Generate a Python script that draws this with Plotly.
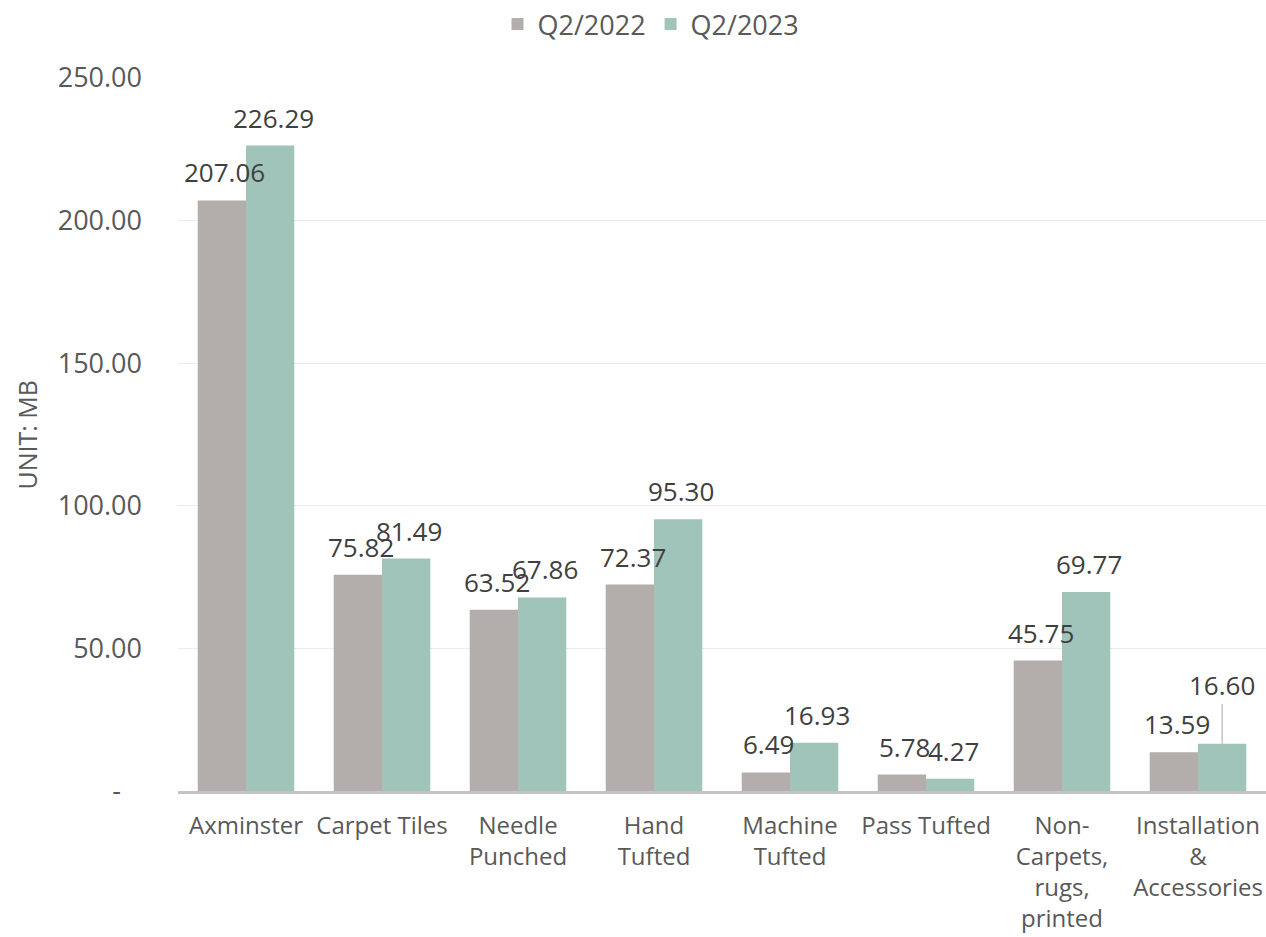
import plotly.graph_objects as go

categories = ["Axminster", "Carpet Tiles", "Needle<br>Punched", "Hand<br>Tufted",
              "Machine<br>Tufted", "Pass Tufted", "Non-<br>Carpets,<br>rugs,<br>printed",
              "Installation<br>&<br>Accessories"]
q2_2022 = [207.06, 75.82, 63.52, 72.37, 6.49, 5.78, 45.75, 13.59]
q2_2023 = [226.29, 81.49, 67.86, 95.30, 16.93, 4.27, 69.77, 16.60]
series_names = ["Q2/2022", "Q2/2023"]
ytick_vals = [0, 50, 100, 150, 200, 250]
ytick_text = ["-\u00a0\u00a0\u00a0", "50.00", "100.00", "150.00", "200.00", "250.00"]

FONT = "Open Sans"
colors = ["#B3ADAC", "#A0C3BA"]
W, H = 1266, 937
ML, MR, MT, MB = 178, 0, 76, 146
plot_w = W - ML - MR
plot_h = H - MT - MB
bargap = 0.29
bar_px = plot_w / len(categories) * (1 - bargap) / 2

fig = go.Figure()
for name, vals, col in zip(series_names, [q2_2022, q2_2023], colors):
    fig.add_trace(go.Bar(
        x=categories, y=vals, name=name, marker=dict(color=col, line=dict(width=0)),
    ))

# data labels (drawn above all bars)
for si, vals in enumerate([q2_2022, q2_2023]):
    xs = (-0.5 + si) * bar_px + 3
    for ci, (cat, v) in enumerate(zip(categories, vals)):
        leader = (si == 1 and ci == len(categories) - 1)
        if leader:
            fig.add_annotation(x=cat, y=v, xref="x", yref="y", text=f"{v:.2f}",
                               xshift=xs - 3, showarrow=True, arrowhead=0, arrowwidth=1,
                               arrowcolor="#A6A6A6", ax=0, ay=-59, standoff=0,
                               font=dict(size=26, color="#404040", family=FONT))
        else:
            fig.add_annotation(x=cat, y=v, xref="x", yref="y", text=f"{v:.2f}",
                               xshift=xs, yshift=28, showarrow=False,
                               yanchor="middle", xanchor="center",
                               font=dict(size=26, color="#404040", family=FONT))

fig.update_layout(
    width=W, height=H,
    margin=dict(l=ML, r=MR, t=MT, b=MB),
    paper_bgcolor="white", plot_bgcolor="white",
    barmode="group", bargap=bargap, bargroupgap=0,
    font=dict(family=FONT, color="#595959"),
    legend=dict(orientation="h", x=(651 - ML) / plot_w, xanchor="center",
                y=1 + (MT - 22) / plot_h, yanchor="middle",
                font=dict(size=27, color="#595959", family=FONT), itemwidth=30),
    showlegend=True,
)
fig.update_yaxes(range=[0, 250], tickvals=ytick_vals, ticktext=ytick_text,
                 tickfont=dict(size=27, color="#595959", family=FONT),
                 showgrid=True, gridcolor="#EBEBEB", gridwidth=1,
                 zeroline=False, showline=False, ticklabelstandoff=35)
fig.update_xaxes(tickfont=dict(size=24, color="#595959", family=FONT),
                 showline=True, linecolor="#C4C4C4", linewidth=3,
                 ticks="", ticklabelstandoff=11, tickangle=0)
fig.add_annotation(text="UNIT: MB", textangle=-90, xref="paper", yref="paper",
                   x=(26 - ML) / plot_w, y=0.5, xanchor="center", yanchor="middle",
                   showarrow=False,
                   font=dict(size=25, color="#595959", family=FONT))
fig.write_html("out.html")
